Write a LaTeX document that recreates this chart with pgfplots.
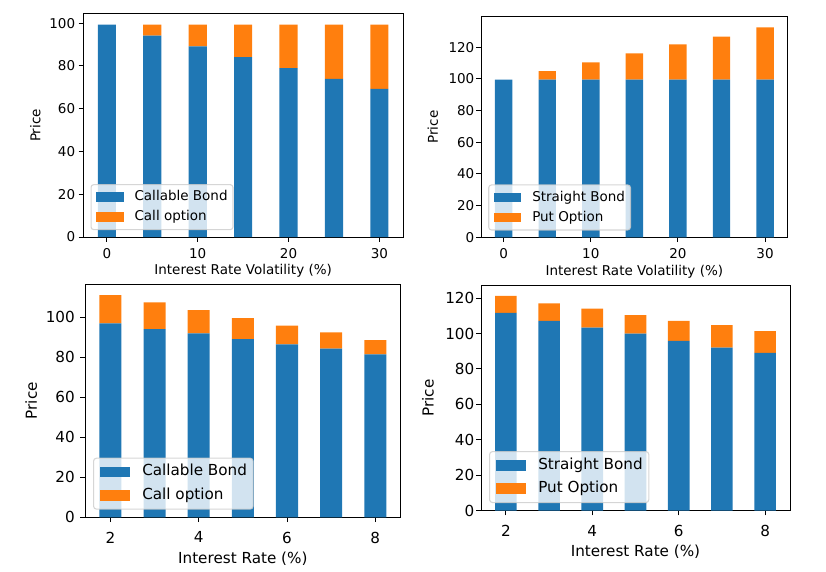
\documentclass[border=0pt]{standalone}
\usepackage{fontspec}
\setmainfont{DejaVu Sans}
\usepackage{pgfplots}
\pgfplotsset{compat=1.18}
\definecolor{mplblue}{HTML}{1F77B4}
\definecolor{mplorange}{HTML}{FF7F0E}
\definecolor{legedge}{HTML}{CCCCCC}

\pgfplotsset{
  mpl/.style={
    scale only axis,
    axis line style={line width=1pt, black},
    tick style={line width=1pt, black},
    tick align=outside,
    major tick length=4.7pt,
    tick pos=left,
    ymin=0,
    ybar stacked,
    /pgf/number format/assume math mode=true,
    legend cell align=left,
    xticklabel style={anchor=north, inner sep=0pt},
    yticklabel style={anchor=east, inner sep=0pt},
    ylabel style={at={(axis description cs:0,0.5)}, anchor=south, inner sep=0pt},
    xlabel style={at={(axis description cs:0.5,0)}, anchor=north, inner sep=0pt},
  },
  toplegend/.style={
    legend image code/.code={\fill[##1, sharp corners, fill opacity=1] (0pt,-4.7pt) rectangle (27.3pt,4.7pt);},
    legend style={at={(0,0)}, anchor=south west, xshift=7.2pt, yshift=6.8pt,
      draw=legedge, fill=white, fill opacity=0.8, draw opacity=0.8, text opacity=1,
      rounded corners=2.7pt, line width=1.1pt, inner xsep=5.4pt, inner ysep=5.75pt,
      row sep=6.5pt, font=\fontsize{13.5pt}{16pt}\selectfont,
      nodes={inner sep=0pt, text height=10.3pt, text depth=3.2pt},
      /tikz/every odd column/.style={column sep=10.8pt}},
  },
  botlegend/.style={
    legend image code/.code={\fill[##1, sharp corners, fill opacity=1] (0pt,-5.3pt) rectangle (30.4pt,5.3pt);},
    legend style={at={(0,0)}, anchor=south west, xshift=8pt, yshift=7.6pt,
      draw=legedge, fill=white, fill opacity=0.8, draw opacity=0.8, text opacity=1,
      rounded corners=3pt, line width=1.1pt, inner xsep=6.1pt, inner ysep=6.25pt,
      row sep=8.1pt, font=\fontsize{15.2pt}{18pt}\selectfont,
      nodes={inner sep=0pt, text height=11.55pt, text depth=3.65pt},
      /tikz/every odd column/.style={column sep=12.2pt}},
  },
  topfont/.style={
    tick label style={font=\fontsize{13.5pt}{16pt}\selectfont},
    label style={font=\fontsize{13.5pt}{16pt}\selectfont},
  },
  botfont/.style={
    tick label style={font=\fontsize{15.2pt}{18pt}\selectfont},
    label style={font=\fontsize{15.2pt}{18pt}\selectfont},
  },
}

\pgfplotstableread{
x callable call
0  99.3  0.0
5  94.2  5.1
10 89.1 10.2
15 84.1 15.2
20 79.0 20.3
25 73.9 25.4
30 69.3 30.0
}\tablevolcall

\pgfplotstableread{
x straight put
0  99.6  0.0
5  99.6  5.3
10 99.6 10.9
15 99.6 16.5
20 99.6 22.2
25 99.6 27.1
30 99.6 33.0
}\tablevolput

\pgfplotstableread{
x callable call
2 96.9 14.1
3 94.0 13.3
4 91.9 11.6
5 89.0 10.5
6 86.4  9.3
7 84.2  8.2
8 81.4  7.1
}\tableratecall

\pgfplotstableread{
x straight put
2 111.6  9.7
3 107.2  9.8
4 103.4 10.6
5  99.9 10.5
6  95.9 11.2
7  92.1 12.7
8  89.1 12.3
}\tablerateput

\begin{document}
\begin{tikzpicture}
\useasboundingbox (0pt,0pt) rectangle (826pt,571pt);

% top left
\begin{axis}[mpl, topfont, toplegend,
  at={(83.3pt,334pt)}, anchor=south west,
  width=319.7pt, height=223pt,
  xmin=-2.6, xmax=32.6, ymax=104.3,
  bar width=2,
  xtick={0,10,20,30}, ytick={0,20,40,60,80,100},
  xticklabel style={yshift=-6.3pt},
  yticklabel style={xshift=-3.3pt},
  xlabel={Interest Rate Volatility (\%)}, ylabel={Price},
  xlabel style={yshift=-27.5pt}, ylabel style={yshift=42.6pt},
]
\addplot[fill=mplblue, draw=none] table[x=x, y=callable] {\tablevolcall};
\addplot[fill=mplorange, draw=none] table[x=x, y=call] {\tablevolcall};
\legend{Callable Bond, Call option}
\end{axis}

% top right
\begin{axis}[mpl, topfont, toplegend,
  at={(481pt,333.7pt)}, anchor=south west,
  width=306.7pt, height=220.6pt,
  xmin=-2.6, xmax=32.6, ymax=139.3,
  bar width=2,
  xtick={0,10,20,30}, ytick={0,20,40,60,80,100,120},
  xticklabel style={yshift=-6.3pt},
  yticklabel style={xshift=-1.8pt},
  xlabel={Interest Rate Volatility (\%)}, ylabel={Price},
  xlabel style={yshift=-27.5pt}, ylabel style={yshift=42.7pt},
]
\addplot[fill=mplblue, draw=none] table[x=x, y=straight] {\tablevolput};
\addplot[fill=mplorange, draw=none] table[x=x, y=put] {\tablevolput};
\legend{Straight Bond, Put Option}
\end{axis}

% bottom left
\begin{axis}[mpl, botfont, botlegend,
  at={(85pt,53.7pt)}, anchor=south west,
  width=315.7pt, height=233.3pt,
  xmin=1.425, xmax=8.575, ymax=116.5,
  bar width=0.5,
  xtick={2,4,6,8}, ytick={0,20,40,60,80,100},
  xticklabel style={yshift=-9.7pt},
  yticklabel style={xshift=-5.3pt},
  xlabel={Interest Rate (\%)}, ylabel={Price},
  xlabel style={yshift=-34.4pt}, ylabel style={yshift=47.7pt},
]
\addplot[fill=mplblue, draw=none] table[x=x, y=callable] {\tableratecall};
\addplot[fill=mplorange, draw=none] table[x=x, y=call] {\tableratecall};
\legend{Callable Bond, Call option}
\end{axis}

% bottom right
\begin{axis}[mpl, botfont, botlegend,
  at={(481pt,60.3pt)}, anchor=south west,
  width=309pt, height=225.7pt,
  xmin=1.425, xmax=8.575, ymax=127.4,
  bar width=0.5,
  xtick={2,4,6,8}, ytick={0,20,40,60,80,100,120},
  xticklabel style={yshift=-9.7pt},
  yticklabel style={xshift=-1.8pt},
  xlabel={Interest Rate (\%)}, ylabel={Price},
  xlabel style={yshift=-33.6pt}, ylabel style={yshift=47pt},
]
\addplot[fill=mplblue, draw=none] table[x=x, y=straight] {\tablerateput};
\addplot[fill=mplorange, draw=none] table[x=x, y=put] {\tablerateput};
\legend{Straight Bond, Put Option}
\end{axis}
\end{tikzpicture}
\end{document}
